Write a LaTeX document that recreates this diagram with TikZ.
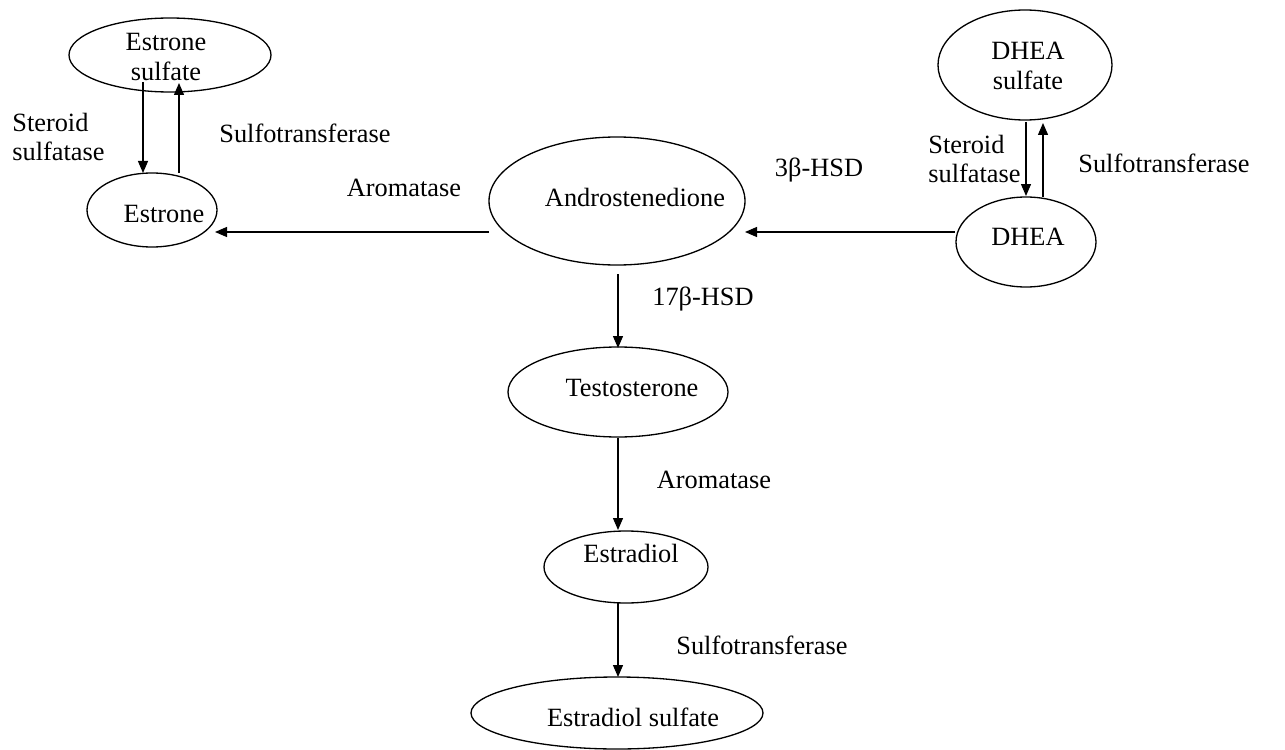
\documentclass[tikz,border=0pt]{standalone}
\usepackage{fontspec}
\setmainfont{Liberation Serif}
\usetikzlibrary{shapes.geometric,arrows.meta}
\newcommand\pxu{0.02cm}
\begin{document}
\begin{tikzpicture}[x=0.02cm,y=-0.02cm,
  font=\fontsize{15}{16.8}\selectfont,
  mol/.style={draw,ellipse,line width=0.75pt,inner sep=0pt},
  txt/.style={inner sep=0pt,align=center},
  arr/.style={line width=0.75pt,-{Triangle[length=12*\pxu,width=10*\pxu]}}]
\useasboundingbox (0,0) rectangle (1285,750);
% molecules
\node[mol,minimum width=202*\pxu,minimum height=74*\pxu] (es) at (170,55) {};
\node[txt] (est) at (166,57) {Estrone\\sulfate};
\node[mol,minimum width=130*\pxu,minimum height=74*\pxu] (e) at (152,210) {};
\node[txt] (et) at (164,214) {Estrone};
\node[mol,minimum width=256*\pxu,minimum height=128*\pxu] (and) at (617,201) {};
\node[txt] (andt) at (635,197) {Androstenedione};
\node[mol,minimum width=174*\pxu,minimum height=110*\pxu] (ds) at (1025,65) {};
\node[txt] (dst) at (1028,66) {DHEA\\sulfate};
\node[mol,minimum width=140*\pxu,minimum height=90*\pxu] (d) at (1026,242) {};
\node[txt] (dt) at (1028,237) {DHEA};
\node[mol,minimum width=220*\pxu,minimum height=90*\pxu] (t) at (618,392) {};
\node[txt] (tt) at (632,388) {Testosterone};
\node[mol,minimum width=164*\pxu,minimum height=72*\pxu] (e2) at (626,567) {};
\node[txt] (e2t) at (631,553) {Estradiol};
\node[mol,minimum width=292*\pxu,minimum height=72*\pxu] (e2s) at (617,713) {};
\node[txt] (e2st) at (633,717) {Estradiol sulfate};
% enzyme labels
\node[txt,anchor=west,align=left] (l1) at (12,137) {Steroid\\sulfatase};
\node[txt] (l2) at (305,133) {Sulfotransferase};
\node[txt] (l3) at (404,188) {Aromatase};
\node[txt] (l4) at (819,170) {3β-HSD};
\node[txt,anchor=west,align=left] (l5) at (928,159) {Steroid\\sulfatase};
\node[txt] (l6) at (1164,163) {Sulfotransferase};
\node[txt] (l7) at (703,299) {17β-HSD};
\node[txt] (l8) at (714,480) {Aromatase};
\node[txt] (l9) at (762,645) {Sulfotransferase};
% connectors
\draw[arr] ([shift={(-27,27)}]es.center) -- ([shift={(-9,-37)}]e.center);
\draw[arr] ([shift={(27,-37)}]e.center) -- ([shift={(9,28)}]es.center);
\draw[arr] ([shift={(-128,31)}]and.center) -- ([shift={(63,22)}]e.center);
\draw[arr] ([shift={(-71,-10)}]d.center) -- ([shift={(128,31)}]and.center);
\draw[arr] ([shift={(1,57)}]ds.center) -- ([shift={(0,-46)}]d.center);
\draw[arr] ([shift={(17,-45)}]d.center) -- ([shift={(18,58)}]ds.center);
\draw[arr] ([shift={(1,73)}]and.center) -- ([shift={(0,-44)}]t.center);
\draw[arr] ([shift={(0,46)}]t.center) -- ([shift={(-8,-37)}]e2.center);
\draw[arr] ([shift={(-8,36)}]e2.center) -- ([shift={(1,-36)}]e2s.center);
\end{tikzpicture}
\end{document}
